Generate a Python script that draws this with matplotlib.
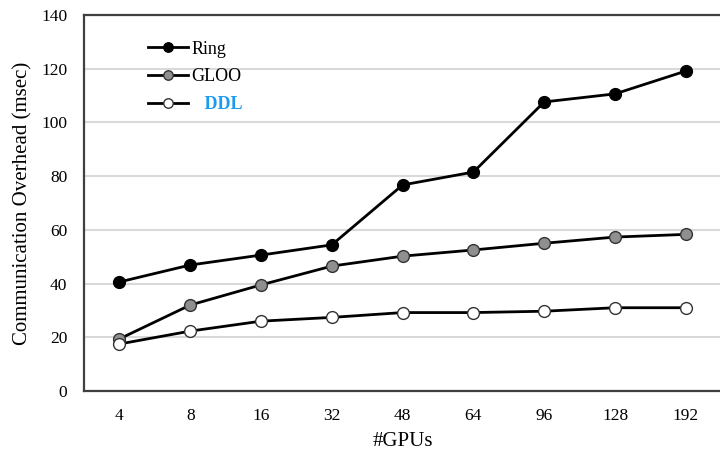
import numpy as np
import matplotlib.pyplot as plt

plt.rcParams['font.family'] = ['Liberation Serif', 'DejaVu Serif']

gpus = ['4', '8', '16', '32', '48', '64', '96', '128', '192']
ring = [40.6, 46.9, 50.6, 54.4, 76.7, 81.5, 107.6, 110.6, 119.1]
gloo = [19.4, 32.0, 39.5, 46.5, 50.2, 52.5, 55.0, 57.3, 58.3]
ddl = [17.5, 22.3, 26.0, 27.4, 29.2, 29.2, 29.7, 31.0, 31.0]

fig = plt.figure(figsize=(7.2, 4.51), dpi=100)
ax = fig.add_axes([0.1167, 0.133, 0.885, 0.834])

x = np.arange(len(gpus))
ax.plot(x, ring, c='black', lw=2.0, marker='o', markersize=8.5,
        markerfacecolor='black', markeredgecolor='black', label='Ring', zorder=3)
ax.plot(x, gloo, c='black', lw=2.0, marker='o', markersize=8.5,
        markerfacecolor='#8f8f8f', markeredgecolor='#333333', markeredgewidth=1.0,
        label='GLOO', zorder=3)
ax.plot(x, ddl, c='black', lw=2.0, marker='o', markersize=8.5,
        markerfacecolor='white', markeredgecolor='#333333', markeredgewidth=1.0,
        label='DDL', zorder=3)

ax.set_xlim(-0.5, 8.5)
ax.set_ylim(0, 140)
ax.set_yticks(range(0, 141, 20))
ax.set_xticks(x)
ax.set_xticklabels(gpus)
ax.yaxis.grid(True, color='#d9d9d9', lw=1.5)
ax.set_axisbelow(True)
ax.tick_params(length=0, labelsize=12.5)
ax.tick_params(axis='y', pad=12)
ax.tick_params(axis='x', pad=12)
for s in ax.spines.values():
    s.set_color('#404040')
    s.set_linewidth(1.6)

ax.set_ylabel('Communication Overhead (msec)', fontsize=15, labelpad=6)
ax.set_xlabel('#GPUs', fontsize=15, labelpad=6)

leg = ax.legend(loc='upper left', bbox_to_anchor=(0.075, 0.975), frameon=False,
                fontsize=13, handlelength=2.2, handletextpad=0.2, labelspacing=0.6,
                markerscale=0.8)
t = leg.get_texts()[2]
t.set_text('   DDL')
t.set_color('#1a9bf0')
t.set_fontweight('bold')

fig.savefig('out.png', dpi=100)
